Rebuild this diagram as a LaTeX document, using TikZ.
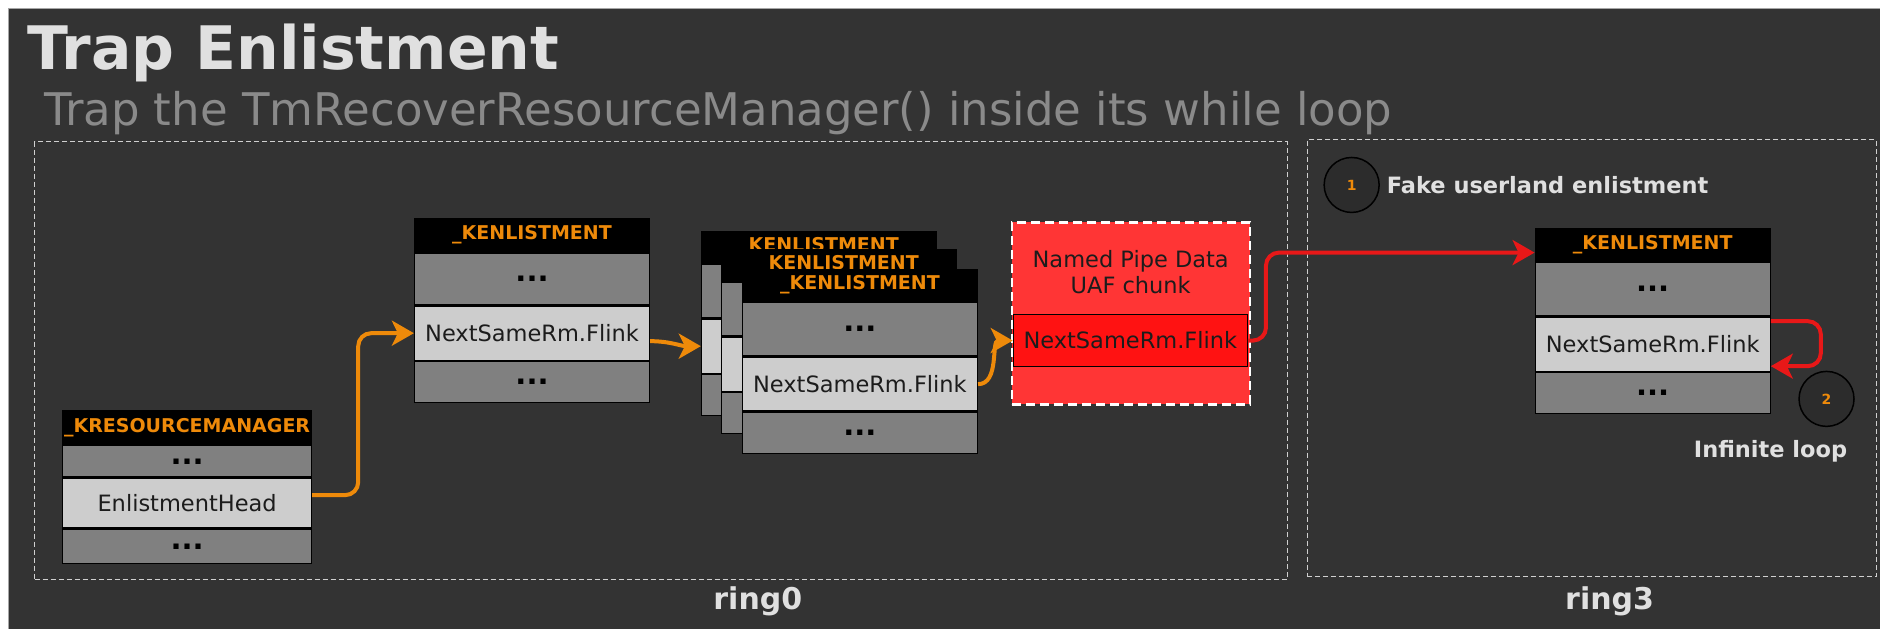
\documentclass[tikz,border=0pt]{standalone}
\usepackage{fontspec}
\setmainfont{DejaVu Sans}
\usetikzlibrary{arrows.meta,calc}

\definecolor{bgdark}{HTML}{333333}
\definecolor{titlegray}{HTML}{E0E0E0}
\definecolor{subgray}{HTML}{8A8A8A}
\definecolor{kor}{HTML}{EE8A0A}
\definecolor{dotgray}{HTML}{808080}
\definecolor{fieldgray}{HTML}{CDCDCD}
\definecolor{txtdark}{HTML}{1C1C1C}
\definecolor{chunkred}{HTML}{FF3535}
\definecolor{fieldred}{HTML}{FF1212}
\definecolor{linkred}{HTML}{E81818}
\definecolor{ringline}{HTML}{D0D0D0}
\definecolor{badgefill}{HTML}{2C2C2C}

\newcommand\fsz[1]{\fontsize{#1}{#1}\selectfont}

\begin{document}
\begin{tikzpicture}[x=1pt,y=-1pt,
  row/.style={draw=black,line width=1.3pt,inner sep=0pt,anchor=north west,minimum width=235pt},
  hdr/.style={row,fill=black,text=kor,font=\fsz{19}\bfseries},
  dotrow/.style={row,fill=dotgray,text=black,font=\fsz{29}\bfseries},
  fieldrow/.style={row,fill=fieldgray,text=txtdark,font=\fsz{22.5}},
  ringbox/.style={draw=ringline,line width=1.4pt,dash pattern=on 5pt off 3pt,anchor=north west,inner sep=0pt},
  ringlabel/.style={text=titlegray,font=\fsz{30}\bfseries},
  badge/.style={circle,draw=black,line width=1.5pt,fill=badgefill,minimum size=55pt,inner sep=0pt,text=kor,font=\fsz{14}\bfseries},
  note/.style={text=titlegray,font=\fsz{22.5}\bfseries,inner sep=0pt},
  olink/.style={draw=kor,line width=4pt,rounded corners=13pt,-{Stealth[length=22pt,width=25pt,inset=6pt]}},
  rlink/.style={draw=linkred,line width=4pt,rounded corners=13pt,-{Stealth[length=22pt,width=25pt,inset=6pt]}}
]
% page and dark panel
\fill[white] (0,0) rectangle (1880,629);
\fill[bgdark] (8,8) rectangle (1880,629);
\draw[gray!70,line width=1pt] (8.5,629) -- (8.5,8.5) -- (1880,8.5);
\useasboundingbox (0,0) rectangle (1880,629);

% headings
\node[anchor=base west,inner sep=0pt,text=titlegray,font=\fsz{60}\bfseries] (title) at (27,70) {Trap Enlistment};
\node[anchor=base west,inner sep=0pt,text=subgray,font=\fsz{45}] (subtitle) at (44,126) {Trap the TmRecoverResourceManager() inside its while loop};

% kernel / user areas
\node[ringbox,minimum width=1253pt,minimum height=438pt] (ring0box) at (34,141) {};
\node[ringbox,minimum width=569pt,minimum height=437pt] (ring3box) at (1307,139) {};
\node[ringlabel] (ring0) at (758,601) {ring0};
\node[ringlabel] (ring3) at (1610,601) {ring3};

% _KRESOURCEMANAGER
\node[hdr,minimum width=249pt,minimum height=34pt] (kmh) at (62,410) {\_KRESOURCEMANAGER};
\node[dotrow,minimum width=249pt,minimum height=31pt] (kmd1) at (kmh.south west) {...};
\node[fieldrow,minimum width=249pt,minimum height=50pt] (kmf) at (kmd1.south west) {EnlistmentHead};
\node[dotrow,minimum width=249pt,minimum height=34pt] (kmd2) at (kmf.south west) {...};

% first _KENLISTMENT
\node[hdr,minimum height=33pt] (ah) at (414,218) {\_KENLISTMENT};
\node[dotrow,minimum height=52pt] (ad1) at (ah.south west) {...};
\node[fieldrow,minimum height=54pt] (af) at (ad1.south west) {NextSameRm.Flink};
\node[dotrow,minimum height=41pt] (ad2) at (af.south west) {...};

% stacked _KENLISTMENT entries (only the front one shows its fields)
\node[hdr,minimum height=31pt] (bh) at (701,231) {\_KENLISTMENT};
\node[dotrow,minimum height=54pt] (bd1) at (bh.south west) {};
\node[fieldrow,minimum height=54pt] (bf) at (bd1.south west) {};
\node[dotrow,minimum height=41pt] (bd2) at (bf.south west) {};

\node[hdr,minimum height=31pt] (mh) at (721,249) {\_KENLISTMENT};
\node[dotrow,minimum height=54pt] (md1) at (mh.south west) {};
\node[fieldrow,minimum height=54pt] (mf) at (md1.south west) {};
\node[dotrow,minimum height=41pt] (md2) at (mf.south west) {};

\node[hdr,minimum height=31pt] (fh) at (742,269) {\_KENLISTMENT};
\node[dotrow,minimum height=54pt] (fd1) at (fh.south west) {...};
\node[fieldrow,minimum height=54pt] (ff) at (fd1.south west) {NextSameRm.Flink};
\node[dotrow,minimum height=41pt] (fd2) at (ff.south west) {...};

% named pipe data chunk
\node[anchor=north west,fill=chunkred,draw=white,line width=2.6pt,dash pattern=on 9pt off 5pt,minimum width=238pt,minimum height=182pt,inner sep=0pt] (chunk) at (1011,221) {};
\node[text=txtdark,font=\fsz{22.5},align=center,inner sep=0pt] (chunktxt) at (1131,272) {Named Pipe Data\\[4pt]UAF chunk};
\node[row,fill=fieldred,text=txtdark,font=\fsz{22.5},minimum width=234pt,minimum height=52pt] (rf) at (1013,314) {NextSameRm.Flink};

% userland _KENLISTMENT
\node[hdr,minimum height=32pt] (uh) at (1535,228) {\_KENLISTMENT};
\node[dotrow,minimum height=54pt] (ud1) at (uh.south west) {...};
\node[fieldrow,minimum height=54pt] (uf) at (ud1.south west) {NextSameRm.Flink};
\node[dotrow,minimum height=41pt] (ud2) at (uf.south west) {...};

% numbered notes
\node[badge] (b1) at (1352,185) {1};
\node[note,anchor=west] (n1) at (1387,185) {Fake userland enlistment};
\node[badge] (b2) at (1827,399) {2};
\node[note] (n2) at (1771,451) {Infinite loop};

% links
\draw[olink] ([yshift=8pt]kmf.east) -- ++(46,0) |- (af.west);
\draw[olink] ([yshift=-8pt]af.east) to[out=0,in=180] (bf.west);
\draw[olink] (ff.east) to[out=0,in=180] (rf.west);
\draw[rlink] (rf.east) -- ++(18,0) |- ([yshift=-8pt]uh.west);
\draw[rlink] ([yshift=23pt]uf.east) -- ++(50,0) |- ([yshift=-22pt]uf.east);
\end{tikzpicture}
\end{document}
